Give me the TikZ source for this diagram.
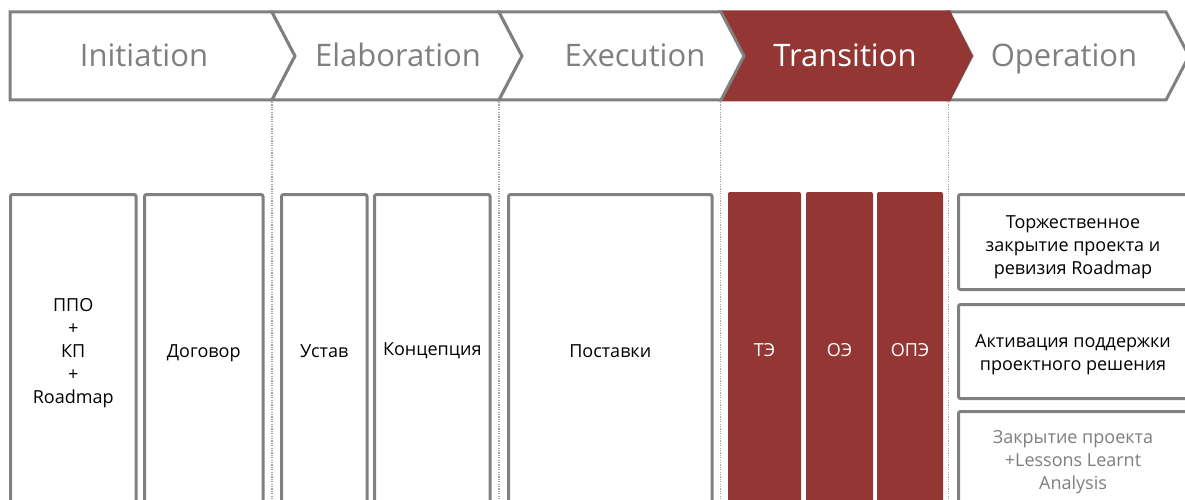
\documentclass[tikz,border=0pt]{standalone}
\usepackage{fontspec}
\setmainfont{Open Sans}
\definecolor{bordergray}{HTML}{808080}
\definecolor{tred}{HTML}{943634}
\definecolor{dotgray}{HTML}{A6A6A6}
\definecolor{labgray}{HTML}{7F7F7F}
\begin{document}
\begin{tikzpicture}[x=1pt,y=-1pt,
  chev/.style={draw=bordergray, line width=3pt, fill=white, line join=miter},
  redchev/.style={draw=tred, fill=tred, line width=3pt, line join=miter},
  phase/.style={font=\fontsize{31}{36}\selectfont, text=labgray, inner sep=0, anchor=base},
  sep/.style={draw=dotgray, line width=1.2pt, dash pattern=on 1.2pt off 1.2pt},
  box/.style={draw=bordergray, line width=3pt, rounded corners=2pt, fill=white, inner sep=0},
  rbox/.style={fill=tred, rounded corners=2pt, inner sep=0},
  btext/.style={align=center, font=\fontsize{18}{23}\selectfont, inner sep=0, text=black}
]
\useasboundingbox (0,0) rectangle (1185,500);
\clip (0,0) rectangle (1185,500);
% chevrons
\path[chev] (10,12) -- (272,12) -- (295,56) -- (272,100) -- (10,100) -- cycle;
\path[chev] (272,12) -- (499,12) -- (522,56) -- (499,100) -- (272,100) -- (295,56) -- cycle;
\path[chev] (949,12) -- (1166,12) -- (1189,56) -- (1166,100) -- (949,100) -- (972,56) -- cycle;
\path[redchev] (721,12) -- (949,12) -- (971,56) -- (949,100) -- (721,100) -- (744,56) -- cycle;
\path[chev] (499,12) -- (721,12) -- (744,56) -- (721,100) -- (499,100) -- (522,56) -- cycle;
% phase labels
\node[phase] (ini) at (144,67) {Initiation};
\node[phase] (ela) at (398,67) {Elaboration};
\node[phase] (exe) at (635,67) {Execution};
\node[phase, text=white] (tra) at (845,67) {Transition};
\node[phase] (ope) at (1064,67) {Operation};
% separators
\coordinate (s1t) at (272,102); \coordinate (s1b) at (272,500);
\coordinate (s2t) at (499,102); \coordinate (s2b) at (499,500);
\coordinate (s3t) at (720.5,102); \coordinate (s3b) at (720.5,500);
\coordinate (s4t) at (948.5,102); \coordinate (s4b) at (948.5,500);
\draw[sep] (s1t) -- (s1b);
\draw[sep] (s2t) -- (s2b);
\draw[sep] (s3t) -- (s3b);
\draw[sep] (s4t) -- (s4b);
% boxes
\node[box, minimum width=125.5pt, minimum height=311pt] (b1) at (73.25,350) {};
\node[box, minimum width=118.5pt, minimum height=311pt] (b2) at (203.75,350) {};
\node[box, minimum width=85.5pt, minimum height=311pt] (b3) at (324.25,350) {};
\node[box, minimum width=115.5pt, minimum height=311pt] (b4) at (432.25,350) {};
\node[box, minimum width=203.5pt, minimum height=311pt] (b5) at (610.25,350) {};
\node[rbox, minimum width=73pt, minimum height=316pt] (r1) at (764.5,350) {};
\node[rbox, minimum width=67pt, minimum height=316pt] (r2) at (839.5,350) {};
\node[rbox, minimum width=66pt, minimum height=316pt] (r3) at (910,350) {};
\node[box, minimum width=229pt, minimum height=95pt] (o1) at (1073,242) {};
\node[box, minimum width=229pt, minimum height=94pt] (o2) at (1073,351.5) {};
\node[box, minimum width=229pt, minimum height=95.5pt] (o3) at (1073,459.25) {};
% texts
\node[btext] (t1) at ([yshift=-3pt]b1.center) {ППО\\+\\КП\\+\\Roadmap};
\node[btext] (t2) at ([yshift=-3pt]b2.center) {Договор};
\node[btext] (t3) at ([yshift=-1pt]b3.center) {Устав};
\node[btext] (t4) at ([yshift=-1pt]b4.center) {Концепция};
\node[btext] (t5) at ([yshift=-1pt]b5.center) {Поставки};
\node[btext, text=white] (tr1) at (r1.center) {ТЭ};
\node[btext, text=white] (tr2) at (r2.center) {ОЭ};
\node[btext, text=white] (tr3) at (r3.center) {ОПЭ};
\node[btext] (to1) at ([yshift=-5pt]o1.center) {Торжественное\\закрытие проекта и\\ревизия Roadmap};
\node[btext] (to2) at ([yshift=-3pt]o2.center) {Активация поддержки\\проектного решения};
\node[btext, text=labgray] (to3) at ([yshift=-2.5pt]o3.center) {Закрытие проекта\\+Lessons Learnt\\Analysis};
\end{tikzpicture}
\end{document}
